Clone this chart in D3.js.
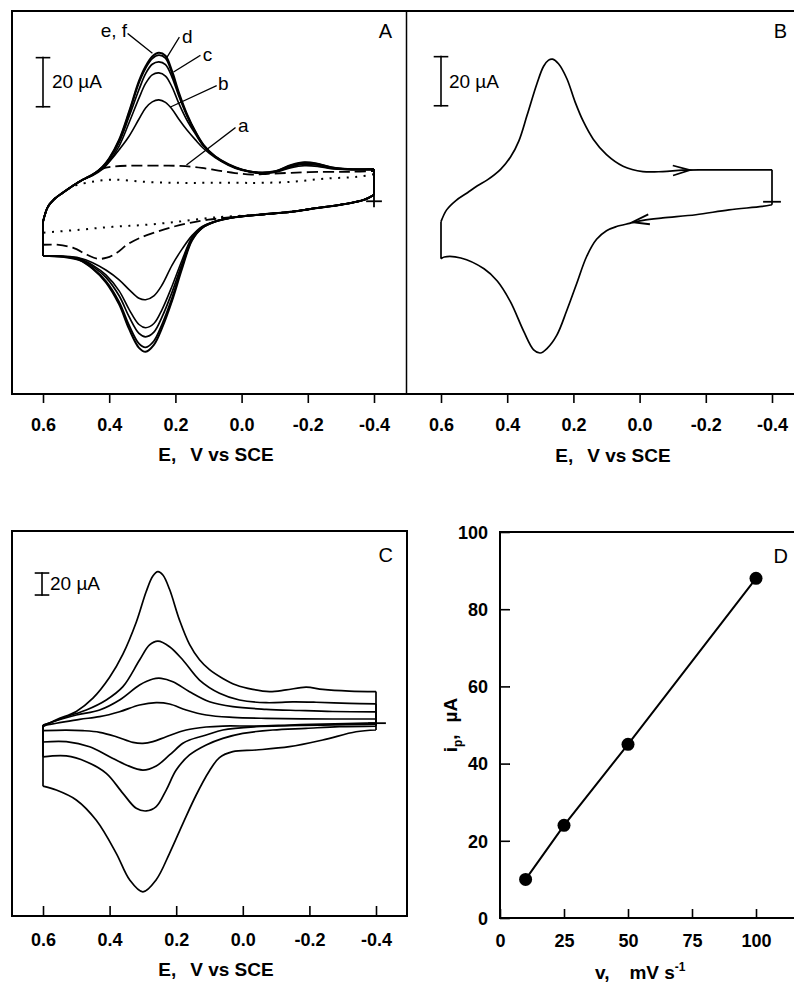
<!DOCTYPE html>
<html><head><meta charset="utf-8">
<script src="https://cdn.jsdelivr.net/npm/d3@7"></script>
<style>
body{margin:0;background:#fff}
svg{display:block}
text{font-family:"Liberation Sans",Arial,Helvetica,sans-serif;fill:#000}
</style>
</head><body>
<script>
// ---------------- DATA ----------------
// Potential axis ticks (V vs SCE)
const eTicks = [0.6, 0.4, 0.2, 0.0, -0.2, -0.4];
const eTickLabels = ["0.6", "0.4", "0.2", "0.0", "-0.2", "-0.4"];

// Panel A: CVs a–f (E in V, i in µA); fwd: 0.6 -> -0.4, rev: -0.4 -> 0.6
const cvA_f_fwd = [[0.60,-13.8],[0.585,-7.7],[0.565,-4.5],[0.54,-2.0],[0.51,0.8],[0.48,3.3],[0.45,5.3],[0.42,8.6],[0.40,12.0],[0.37,19.6],[0.34,31.0],[0.31,43.5],[0.29,49.5],[0.27,53.5],[0.25,55.0],[0.23,53.8],[0.21,47.5],[0.19,39.0],[0.165,30.0],[0.14,23.0],[0.115,17.5],[0.08,12.8],[0.04,9.6],[0.0,7.5],[-0.05,6.2],[-0.10,6.7],[-0.15,9.3],[-0.19,10.4],[-0.23,9.8],[-0.27,8.4],[-0.32,7.6],[-0.40,7.6]];
const cvA_f_rev = [[-0.40,-2.9],[-0.37,-4.9],[-0.30,-6.9],[-0.23,-8.2],[-0.15,-9.8],[-0.05,-11.0],[0.03,-12.2],[0.08,-13.8],[0.12,-16.5],[0.15,-21.5],[0.18,-33.0],[0.21,-46.0],[0.24,-57.0],[0.265,-64.0],[0.29,-66.8],[0.31,-65.2],[0.34,-57.5],[0.37,-47.5],[0.41,-38.5],[0.45,-33.0],[0.49,-29.5],[0.54,-28.1],[0.60,-27.7]];
const cvA_e_fwd = [[0.60,-13.8],[0.585,-7.7],[0.565,-4.5],[0.54,-2.0],[0.51,0.8],[0.48,3.3],[0.45,5.3],[0.42,8.5],[0.40,11.8],[0.37,19.2],[0.34,30.5],[0.31,42.8],[0.29,48.7],[0.27,52.6],[0.25,54.0],[0.23,52.8],[0.21,46.5],[0.19,38.3],[0.165,29.6],[0.14,22.8],[0.115,17.3],[0.08,12.7],[0.04,9.5],[0.0,7.4],[-0.05,6.2],[-0.10,6.6],[-0.15,9.1],[-0.19,10.2],[-0.23,9.7],[-0.27,8.3],[-0.32,7.6],[-0.40,7.6]];
const cvA_e_rev = [[-0.40,-2.9],[-0.37,-4.9],[-0.30,-6.9],[-0.23,-8.2],[-0.15,-9.8],[-0.05,-11.0],[0.03,-12.2],[0.08,-13.8],[0.12,-16.4],[0.15,-21.2],[0.18,-32.2],[0.21,-44.8],[0.24,-55.5],[0.265,-62.4],[0.29,-65.0],[0.31,-63.5],[0.34,-56.0],[0.37,-46.5],[0.41,-38.0],[0.45,-32.8],[0.49,-29.4],[0.54,-28.1],[0.60,-27.7]];
const cvA_d_fwd = [[0.60,-13.8],[0.585,-7.7],[0.565,-4.5],[0.54,-2.0],[0.51,0.8],[0.48,3.3],[0.45,5.3],[0.42,8.4],[0.40,11.5],[0.37,18.5],[0.34,29.0],[0.31,40.0],[0.29,46.5],[0.27,50.3],[0.25,51.3],[0.23,50.2],[0.21,45.0],[0.19,37.5],[0.165,29.3],[0.14,22.6],[0.115,17.2],[0.08,12.7],[0.04,9.5],[0.0,7.4],[-0.05,6.2],[-0.10,6.6],[-0.15,8.9],[-0.19,10.0],[-0.23,9.5],[-0.27,8.2],[-0.32,7.6],[-0.40,7.6]];
const cvA_d_rev = [[-0.40,-2.9],[-0.37,-4.9],[-0.30,-6.9],[-0.23,-8.2],[-0.15,-9.8],[-0.05,-11.0],[0.03,-12.2],[0.08,-13.8],[0.12,-16.3],[0.15,-20.8],[0.18,-31.0],[0.21,-42.5],[0.24,-52.5],[0.265,-58.8],[0.29,-60.7],[0.31,-59.3],[0.34,-52.5],[0.37,-44.0],[0.41,-36.5],[0.45,-32.0],[0.49,-29.0],[0.54,-28.0],[0.60,-27.7]];
const cvA_c_fwd = [[0.60,-13.8],[0.585,-7.7],[0.565,-4.5],[0.54,-2.0],[0.51,0.8],[0.48,3.3],[0.45,5.2],[0.42,8.0],[0.40,10.8],[0.37,17.0],[0.34,26.5],[0.31,36.5],[0.29,42.5],[0.27,46.0],[0.25,46.8],[0.23,45.5],[0.21,41.0],[0.19,34.5],[0.165,27.5],[0.14,22.0],[0.115,17.0],[0.08,12.6],[0.04,9.4],[0.0,7.3],[-0.05,6.1],[-0.10,6.4],[-0.15,8.6],[-0.19,9.6],[-0.23,9.2],[-0.27,8.0],[-0.32,7.5],[-0.40,7.5]];
const cvA_c_rev = [[-0.40,-2.9],[-0.37,-4.9],[-0.30,-6.9],[-0.23,-8.2],[-0.15,-9.8],[-0.05,-11.0],[0.03,-12.2],[0.08,-13.7],[0.12,-16.0],[0.15,-20.2],[0.18,-29.5],[0.21,-40.0],[0.24,-49.5],[0.265,-55.3],[0.29,-57.0],[0.31,-55.7],[0.34,-49.5],[0.37,-42.0],[0.41,-35.5],[0.45,-31.5],[0.49,-28.8],[0.54,-27.9],[0.60,-27.7]];
const cvA_b_fwd = [[0.60,-13.8],[0.585,-7.7],[0.565,-4.5],[0.54,-2.0],[0.51,0.8],[0.48,3.2],[0.45,5.0],[0.42,7.6],[0.40,10.5],[0.37,15.5],[0.34,21.0],[0.31,28.0],[0.29,32.5],[0.27,35.0],[0.25,35.8],[0.23,34.8],[0.21,32.0],[0.19,28.0],[0.165,23.5],[0.14,19.6],[0.115,16.0],[0.08,12.3],[0.04,9.2],[0.0,7.1],[-0.05,6.0],[-0.10,6.2],[-0.15,8.2],[-0.19,9.0],[-0.23,8.7],[-0.27,7.8],[-0.32,7.4],[-0.40,7.4]];
const cvA_b_rev = [[-0.40,-2.9],[-0.37,-4.9],[-0.30,-6.9],[-0.23,-8.2],[-0.15,-9.8],[-0.05,-11.0],[0.03,-12.2],[0.08,-13.6],[0.12,-15.8],[0.15,-19.5],[0.18,-25.0],[0.21,-31.5],[0.24,-39.5],[0.265,-44.0],[0.29,-45.6],[0.31,-45.0],[0.34,-41.5],[0.37,-37.5],[0.41,-33.5],[0.45,-30.5],[0.49,-28.6],[0.54,-27.9],[0.60,-27.7]];
const cvA_a_fwd = [[0.60,-13.8],[0.585,-7.7],[0.565,-4.5],[0.54,-2.0],[0.51,0.8],[0.48,3.3],[0.45,5.5],[0.42,7.8],[0.39,8.6],[0.34,9.0],[0.28,9.0],[0.22,9.0],[0.17,8.8],[0.12,8.1],[0.07,7.0],[0.02,6.0],[-0.03,5.4],[-0.08,5.7],[-0.15,6.1],[-0.25,6.5],[-0.33,6.5],[-0.40,6.9]];
const cvA_a_rev = [[-0.40,-2.9],[-0.37,-4.9],[-0.30,-6.9],[-0.23,-8.2],[-0.15,-9.8],[-0.05,-11.0],[0.03,-12.0],[0.10,-13.0],[0.156,-14.3],[0.207,-15.9],[0.256,-17.9],[0.307,-20.4],[0.346,-23.2],[0.377,-26.5],[0.407,-28.5],[0.437,-28.9],[0.467,-27.3],[0.51,-24.4],[0.558,-23.2],[0.60,-23.2]];
const cvA_blank_fwd = [[0.60,-13.8],[0.585,-7.7],[0.565,-4.5],[0.54,-2.0],[0.51,0.5],[0.47,2.0],[0.39,3.3],[0.29,2.4],[0.19,2.0],[0.10,2.0],[0.0,2.0],[-0.05,2.0],[-0.15,2.4],[-0.25,3.7],[-0.35,4.5],[-0.40,5.5]];
const cvA_blank_rev = [[-0.40,-2.9],[-0.37,-4.9],[-0.30,-6.9],[-0.23,-8.2],[-0.15,-9.8],[-0.05,-11.0],[0.05,-11.8],[0.10,-12.3],[0.19,-13.8],[0.29,-15.1],[0.39,-15.9],[0.49,-17.1],[0.60,-18.3]];
const startMarkA = [-0.40, -5.5];

// Panel A labels: [text, E, i (text anchor), E1, i1, E2, i2 (leader line)]
const labelsA = [
  ["e, f", 0.346, 61.5, 0.343, 62.7, 0.271, 55.0, "end"],
  ["d", 0.180, 59.1, 0.189, 61.1, 0.226, 53.0, "start"],
  ["c", 0.117, 51.7, 0.126, 53.8, 0.204, 47.3, "start"],
  ["b", 0.071, 39.9, 0.077, 41.5, 0.213, 33.0, "start"],
  ["a", 0.011, 22.8, 0.020, 24.4, 0.165, 9.4, "start"]
];

// Panel B: single CV
const cvB_fwd = [[0.60,-13.8],[0.583,-9.0],[0.555,-5.2],[0.52,-2.0],[0.49,0.8],[0.46,3.2],[0.42,7.5],[0.39,12.5],[0.365,19.0],[0.34,29.5],[0.31,42.5],[0.29,49.5],[0.275,52.0],[0.263,52.4],[0.245,50.5],[0.22,44.5],[0.195,35.0],[0.17,27.0],[0.14,19.8],[0.10,13.5],[0.05,8.8],[-0.01,6.6],[-0.07,6.6],[-0.13,7.2],[-0.20,7.3],[-0.30,7.3],[-0.40,7.3]];
const cvB_rev = [[-0.40,-6.9],[-0.37,-7.6],[-0.27,-9.0],[-0.17,-11.0],[-0.07,-12.3],[-0.01,-13.3],[0.03,-14.5],[0.07,-15.8],[0.10,-17.5],[0.13,-21.0],[0.16,-28.0],[0.19,-39.0],[0.22,-50.0],[0.25,-60.0],[0.28,-65.5],[0.30,-67.3],[0.32,-66.0],[0.35,-58.5],[0.39,-46.5],[0.43,-38.0],[0.47,-33.0],[0.54,-28.6],[0.59,-28.2],[0.60,-28.9]];
const startMarkB = [-0.40, -5.7];
// arrows: tip E, tip i, tail E, tail i
const arrowsB = [[-0.152, 7.2, -0.09, 7.0], [0.022, -14.0, -0.04, -12.6]];

// Panel C: CVs at 10, 25, 50, 100 mV/s
const cvC_10_fwd = [[0.60,0.2],[0.56,2.2],[0.49,5.8],[0.43,8.2],[0.37,12.7],[0.31,18.8],[0.26,20.9],[0.22,19.7],[0.17,14.3],[0.11,9.7],[0.03,7.6],[-0.07,6.7],[-0.27,6.1],[-0.40,6.1]];
const cvC_10_rev = [[-0.40,2.5],[-0.24,1.5],[-0.14,0.6],[-0.04,-0.3],[0.06,-0.3],[0.11,-1.2],[0.17,-3.9],[0.23,-10.0],[0.27,-14.5],[0.30,-16.0],[0.33,-15.1],[0.38,-10.0],[0.43,-6.0],[0.48,-4.5],[0.53,-4.0],[0.60,-4.5]];
const cvC_25_fwd = [[0.60,0.6],[0.57,3.6],[0.50,9.7],[0.43,14.3],[0.37,23.4],[0.31,37.0],[0.27,42.5],[0.245,43.1],[0.21,40.0],[0.16,30.9],[0.10,21.8],[0.03,17.3],[-0.07,14.9],[-0.17,13.8],[-0.27,12.9],[-0.40,12.5]];
const cvC_25_rev = [[-0.40,1.5],[-0.24,0.6],[-0.14,0.0],[-0.04,-0.9],[0.06,-3.9],[0.11,-8.5],[0.16,-13.0],[0.18,-16.0],[0.22,-26.6],[0.26,-36.6],[0.30,-40.3],[0.35,-35.7],[0.40,-28.2],[0.46,-19.1],[0.53,-14.5],[0.60,-14.8]];
const cvC_50_fwd = [[0.60,0.3],[0.53,8.2],[0.47,14.3],[0.41,23.4],[0.36,35.5],[0.31,59.7],[0.28,73.4],[0.255,76.8],[0.22,71.8],[0.18,59.7],[0.13,41.5],[0.07,29.5],[0.01,23.4],[-0.07,20.9],[-0.15,21.6],[-0.22,21.3],[-0.32,20.3],[-0.40,19.8]];
const cvC_50_rev = [[-0.40,-0.3],[-0.29,-0.9],[-0.19,-2.4],[-0.09,-3.9],[0.0,-6.9],[0.06,-11.5],[0.11,-17.5],[0.16,-26.6],[0.20,-40.3],[0.23,-58.5],[0.26,-73.6],[0.29,-77.5],[0.32,-75.1],[0.36,-61.5],[0.41,-43.3],[0.47,-32.7],[0.53,-27.5],[0.60,-28.3]];
const cvC_100_fwd = [[0.60,-0.9],[0.56,5.5],[0.50,13.0],[0.45,25.0],[0.40,44.0],[0.36,65.0],[0.32,94.0],[0.29,122.0],[0.27,136.0],[0.255,140.0],[0.24,137.0],[0.22,124.0],[0.19,96.0],[0.16,74.0],[0.13,60.0],[0.10,51.0],[0.06,43.0],[0.02,37.0],[-0.03,33.0],[-0.08,31.0],[-0.13,32.5],[-0.19,35.0],[-0.24,33.0],[-0.32,31.5],[-0.40,31.0]];
const cvC_100_rev = [[-0.40,-3.9],[-0.34,-5.5],[-0.24,-13.0],[-0.14,-19.1],[-0.04,-22.1],[0.03,-23.6],[0.07,-29.0],[0.10,-41.0],[0.14,-63.0],[0.18,-89.0],[0.22,-116.0],[0.26,-140.0],[0.30,-151.0],[0.34,-140.0],[0.38,-116.0],[0.44,-86.0],[0.50,-67.5],[0.56,-58.5],[0.60,-55.0]];
const startMarkC = [-0.40, 2.3];

// Panel D: peak current vs scan rate
const scanRates = [10, 25, 50, 100];
const peakCurrents = [10, 24, 45, 88];
const dXTicks = [0, 25, 50, 75, 100];
const dYTicks = [0, 20, 40, 60, 80, 100];

// ---------------- DRAWING ----------------
const svg = d3.select("body").append("svg").attr("width", 794).attr("height", 984);

const xA = d3.scaleLinear().domain([0.6, -0.4]).range([43, 374]);
const yA = d3.scaleLinear().domain([-84, 72]).range([394, 11]);
const xB = d3.scaleLinear().domain([0.6, -0.4]).range([441, 772]);
const yB = yA.copy();
const xC = d3.scaleLinear().domain([0.6, -0.4]).range([43, 376]);
const yC = d3.scaleLinear().domain([-173, 177]).range([916, 531]);
const xD = d3.scaleLinear().domain([0, 120]).range([500, 807.2]);
const yD = d3.scaleLinear().domain([0, 100]).range([918, 532]);

function seg(g, x1, y1, x2, y2, w) {
  g.append("line").attr("x1", x1).attr("y1", y1).attr("x2", x2).attr("y2", y2)
    .attr("stroke", "#000").attr("stroke-width", w || 2).attr("stroke-linecap", "square");
}

function drawCV(g, x, y, fwd, rev, width, dash) {
  const smooth = d3.line().x(d => x(d[0])).y(d => y(d[1])).curve(d3.curveCatmullRom.alpha(0.5));
  const straight = d3.line().x(d => x(d[0])).y(d => y(d[1]));
  const d = smooth(fwd) + straight([fwd[fwd.length - 1], rev[0]]) + smooth(rev) + straight([rev[rev.length - 1], fwd[0]]);
  const p = g.append("path").attr("d", d).attr("fill", "none").attr("stroke", "#000")
    .attr("stroke-width", width).attr("stroke-linejoin", "round");
  if (dash) p.attr("stroke-dasharray", dash);
  return p;
}

function eAxis(g, x, yPos, size, labelY) {
  const ax = d3.axisBottom(x).tickValues(eTicks).tickSize(size)
    .tickFormat((d, i) => eTickLabels[i]);
  const a = g.append("g").attr("transform", `translate(0,${yPos})`).call(ax);
  a.select(".domain").remove();
  a.selectAll(".tick line").attr("stroke", "#000").attr("stroke-width", 1.6);
  a.selectAll(".tick text").attr("y", labelY).attr("dy", 0)
    .style("font-family", '"Liberation Sans",Arial,sans-serif').style("font-size", "18px")
    .style("font-weight", "bold").attr("fill", "#000");
}

function scaleBar(g, x, y, e, i0, i1, lx, li) {
  const xx = x(e);
  seg(g, xx, y(i0), xx, y(i1), 1.6);
  seg(g, xx - 6.5, y(i0), xx + 6.5, y(i0), 1.6);
  seg(g, xx - 6.5, y(i1), xx + 6.5, y(i1), 1.6);
  g.append("text").attr("x", x(lx)).attr("y", y(li)).style("font-size", "19px").text("20 \u00B5A");
}

function eTitle(g, cx, by) {
  const t = g.append("text").attr("x", cx).attr("y", by).attr("text-anchor", "middle")
    .style("font-size", "19px").style("font-weight", "bold");
  t.append("tspan").text("E,");
  t.append("tspan").attr("dx", 14).text("V vs SCE");
}

function plus(g, px, py, hw, hh) {
  seg(g, px - hw, py, px + hw, py, 1.8);
  if (hh) seg(g, px, py - hh, px, py + hh, 1.8);
}

// ----- Panel A -----
const gA = svg.append("g");
seg(gA, 12, 11, 407, 11);
seg(gA, 12, 11, 12, 394);
seg(gA, 12, 394, 407, 394);
seg(gA, 406.5, 11, 406.5, 394, 1.5);
eAxis(gA, xA, 394, 9, 37);
eTitle(gA, 216, 461);
gA.append("text").attr("x", 392).attr("y", 38).attr("text-anchor", "end").style("font-size", "20px").text("A");
scaleBar(gA, xA, yA, 0.6, 33.0, 53.0, 0.573, 40.5);

drawCV(gA, xA, yA, cvA_blank_fwd, cvA_blank_rev, 2, "2,6.5");
drawCV(gA, xA, yA, cvA_a_fwd, cvA_a_rev, 1.8, "11,5");
drawCV(gA, xA, yA, cvA_b_fwd, cvA_b_rev, 1.6);
drawCV(gA, xA, yA, cvA_c_fwd, cvA_c_rev, 1.6);
drawCV(gA, xA, yA, cvA_d_fwd, cvA_d_rev, 1.7);
drawCV(gA, xA, yA, cvA_e_fwd, cvA_e_rev, 1.8);
drawCV(gA, xA, yA, cvA_f_fwd, cvA_f_rev, 2);
plus(gA, xA(startMarkA[0]), yA(startMarkA[1]), 7, 5);

labelsA.forEach(l => {
  gA.append("text").attr("x", xA(l[1])).attr("y", yA(l[2])).attr("text-anchor", l[7])
    .style("font-size", "19px").text(l[0]);
  seg(gA, xA(l[3]), yA(l[4]), xA(l[5]), yA(l[6]), 1.3);
});

// ----- Panel B -----
const gB = svg.append("g");
seg(gB, 406, 11, 794, 11);
seg(gB, 406, 394, 794, 394);
eAxis(gB, xB, 394, 9, 37);
eTitle(gB, 613, 462);
gB.append("text").attr("x", 787).attr("y", 38).attr("text-anchor", "end").style("font-size", "20px").text("B");
scaleBar(gB, xB, yB, 0.6, 33.4, 53.4, 0.576, 40.5);
drawCV(gB, xB, yB, cvB_fwd, cvB_rev, 1.7);
plus(gB, xB(startMarkB[0]), yB(startMarkB[1]), 8, 0);
arrowsB.forEach(a => {
  const tx = xB(a[0]), ty = yB(a[1]), bx = xB(a[2]), by = yB(a[3]);
  const ang = Math.atan2(ty - by, tx - bx);
  const L = 17, W = 5;
  const c = Math.cos(ang), s = Math.sin(ang);
  const p1 = [tx - L * c - W * s, ty - L * s + W * c];
  const p2 = [tx - L * c + W * s, ty - L * s - W * c];
  gB.append("path").attr("d", `M${p1[0]},${p1[1]}L${tx},${ty}L${p2[0]},${p2[1]}`)
    .attr("fill", "none").attr("stroke", "#000").attr("stroke-width", 1.8);
});

// ----- Panel C -----
const gC = svg.append("g");
seg(gC, 12, 531, 407, 531);
seg(gC, 12, 531, 12, 916);
seg(gC, 407, 531, 407, 916);
seg(gC, 12, 916, 407, 916);
eAxis(gC, xC, 916, -10, 30);
eTitle(gC, 216, 976);
gC.append("text").attr("x", 393).attr("y", 562).attr("text-anchor", "end").style("font-size", "20px").text("C");
scaleBar(gC, xC, yC, 0.603, 118.8, 138.8, 0.579, 123.5);
drawCV(gC, xC, yC, cvC_10_fwd, cvC_10_rev, 1.7);
drawCV(gC, xC, yC, cvC_25_fwd, cvC_25_rev, 1.7);
drawCV(gC, xC, yC, cvC_50_fwd, cvC_50_rev, 1.7);
drawCV(gC, xC, yC, cvC_100_fwd, cvC_100_rev, 1.7);
plus(gC, xC(startMarkC[0]) + 1, yC(startMarkC[1]), 8, 0);

// ----- Panel D -----
const gD = svg.append("g");
seg(gD, 500, 532, 794, 532);
seg(gD, 500, 532, 500, 918);
seg(gD, 500, 918, 794, 918);
const axX = d3.axisBottom(xD).tickValues(dXTicks).tickSize(-9).tickFormat(d3.format("d"));
const gx = gD.append("g").attr("transform", "translate(0,918)").call(axX);
gx.select(".domain").remove();
gx.selectAll(".tick line").attr("stroke", "#000").attr("stroke-width", 1.6);
gx.selectAll(".tick text").attr("y", 29).attr("dy", 0).style("font-family", '"Liberation Sans",Arial,sans-serif')
  .style("font-size", "18px").style("font-weight", "bold").attr("fill", "#000");
const axY = d3.axisLeft(yD).tickValues(dYTicks).tickSize(-10).tickFormat(d3.format("d"));
const gy = gD.append("g").attr("transform", "translate(500,0)").call(axY);
gy.select(".domain").remove();
gy.selectAll(".tick line").attr("stroke", "#000").attr("stroke-width", 1.6);
gy.selectAll(".tick text").attr("x", -12).attr("dy", "0.35em").style("font-family", '"Liberation Sans",Arial,sans-serif')
  .style("font-size", "18px").style("font-weight", "bold").attr("fill", "#000");
gD.append("text").attr("x", 788).attr("y", 563).attr("text-anchor", "end").style("font-size", "20px").text("D");

const ptsD = scanRates.map((v, k) => [v, peakCurrents[k]]);
gD.append("path").attr("d", d3.line().x(d => xD(d[0])).y(d => yD(d[1]))(ptsD))
  .attr("fill", "none").attr("stroke", "#000").attr("stroke-width", 2);
gD.selectAll("circle.pt").data(ptsD).enter().append("circle")
  .attr("cx", d => xD(d[0])).attr("cy", d => yD(d[1])).attr("r", 6.5).attr("fill", "#000");

// D axis titles
const tx = gD.append("text").attr("x", 595).attr("y", 979).style("font-size", "19px").style("font-weight", "bold");
tx.append("tspan").text("v,");
tx.append("tspan").attr("dx", 20).text("mV s");
tx.append("tspan").attr("dy", -8).style("font-size", "12px").text("-1");
const ty = gD.append("text").attr("transform", "translate(457,725) rotate(-90)").attr("text-anchor", "middle")
  .style("font-size", "19px").style("font-weight", "bold");
ty.append("tspan").text("i");
ty.append("tspan").attr("dy", 5).style("font-size", "12px").text("p");
ty.append("tspan").attr("dy", -5).text(",");
ty.append("tspan").attr("dx", 12).text("\u00B5A");
</script>
</body></html>
